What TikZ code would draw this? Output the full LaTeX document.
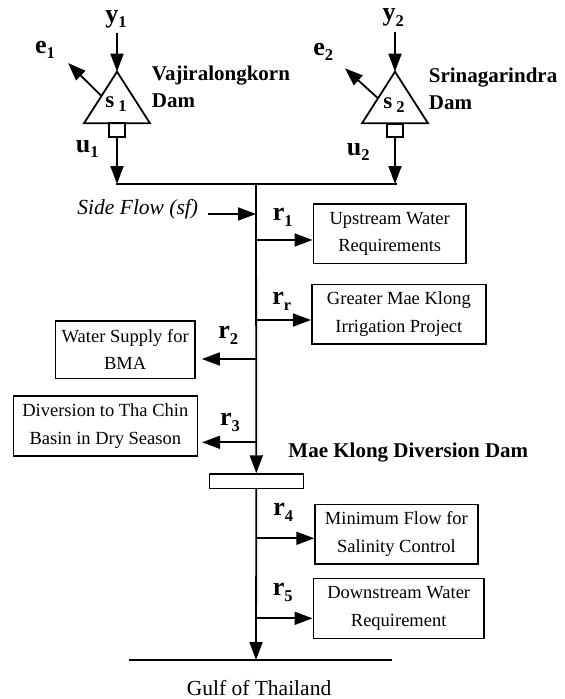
\documentclass[tikz,border=0pt]{standalone}
\usepackage{fontspec}
\setmainfont{Liberation Serif}
\usetikzlibrary{arrows.meta}
\newcommand\lbl[2]{{\fontsize{26}{28}\selectfont\bfseries #1\raisebox{-0.22em}{\fontsize{16.5}{18}\selectfont\bfseries #2}}}
\newcommand\stor[2]{{\fontsize{23}{25}\selectfont\bfseries #1\,\raisebox{-0.2em}{\fontsize{16.5}{18}\selectfont\bfseries #2}}}
\begin{document}
\begin{tikzpicture}[x=1pt,y=-1pt,
  line width=1.8pt,
  arr/.style={-{Triangle[length=18pt,width=13pt]}},
  lab/.style={inner sep=0},
  damname/.style={font=\fontsize{21}{27}\selectfont\bfseries, inner sep=0, align=left, anchor=west},
  box/.style={draw, line width=1.6pt, align=center, font=\fontsize{18.5}{27.5}\selectfont, inner sep=0},
  gate/.style={draw, line width=1.6pt, inner sep=0, minimum width=16pt, minimum height=13.5pt}]
\useasboundingbox (0,0) rectangle (565,699);

% ---- dam 1 ----
\coordinate (apex1) at (117,71.7);
\coordinate (bl1) at (84,123.3);
\coordinate (br1) at (150,123.3);
\draw[line join=miter] (apex1) -- (bl1) -- (br1) -- cycle;
\node[gate] (g1) at (117,130) {};
\node[lab] (s1) at (116,104) {\stor{s}{1}};
\coordinate (ytop1) at (117,33);
\draw[arr] (ytop1) -- (apex1);
\node[lab] (y1) at (116,19) {\lbl{y}{1}};
\coordinate (eo1) at (101.5,96);
\coordinate (et1) at (68,63);
\draw[arr] (eo1) -- (et1);
\node[lab] (e1) at (45,50) {\lbl{e}{1}};
\node[lab] (u1) at (87.3,149) {\lbl{u}{1}};
\node[damname] (d1) at (151,86.7) {Vajiralongkorn\\Dam};

% ---- dam 2 ----
\coordinate (apex2) at (395,71.7);
\coordinate (bl2) at (362,123.3);
\coordinate (br2) at (428,123.3);
\draw[line join=miter] (apex2) -- (bl2) -- (br2) -- cycle;
\node[gate] (g2) at (395,130.5) {};
\node[lab] (s2) at (394,105) {\stor{s}{2}};
\coordinate (ytop2) at (395,32);
\draw[arr] (ytop2) -- (apex2);
\node[lab] (y2) at (393.3,17.5) {\lbl{y}{2}};
\coordinate (eo2) at (378,98.3);
\coordinate (et2) at (345,68.3);
\draw[arr] (eo2) -- (et2);
\node[lab] (e2) at (323.3,52) {\lbl{e}{2}};
\node[lab] (u2) at (358.3,152) {\lbl{u}{2}};
\node[damname] (d2) at (428,89) {Srinagarindra\\Dam};

% ---- top collector ----
\coordinate (tl) at (116,184);
\coordinate (tr) at (396.5,184);
\coordinate (tm) at (256,184);
\draw (tl) -- (tr);
\draw[arr] (g1) -- (g1 |- tl);
\draw[arr] (g2) -- (g2 |- tr);

% ---- side flow ----
\node[font=\fontsize{21.5}{24}\selectfont\itshape, inner sep=0, anchor=east] (sf) at (199,209.5) {Side Flow (sf)};
\coordinate (sfs) at (208,214);
\coordinate (sfj) at (256,214);
\draw[arr] (sfs) -- (sfj);

% ---- demand boxes ----
\node[box, minimum width=152.7pt, minimum height=59.3pt] (up) at (389.7,233.7) {Upstream Water\\Requirements};
\node[box, minimum width=174.3pt, minimum height=59.7pt] (gm) at (398.9,314.2) {Greater Mae Klong\\Irrigation Project};
\node[box, minimum width=139.7pt, minimum height=57.6pt] (ws) at (125.2,349.5) {Water Supply for\\BMA};
\node[box, minimum width=184pt, minimum height=60pt] (dv) at (105.3,426) {Diversion to Tha Chin\\Basin in Dry Season};
\node[box, minimum width=162.7pt, minimum height=59.7pt] (mf) at (396.4,534.2) {Minimum Flow for\\Salinity Control};
\node[box, minimum width=170.7pt, minimum height=60pt] (ds) at (398.7,608.3) {Downstream Water\\Requirement};

% ---- diversion dam ----
\node[draw, line width=1.6pt, inner sep=0, minimum width=94pt, minimum height=14.3pt] (dam) at (256.3,481.2) {};
\node[font=\fontsize{21}{24}\selectfont\bfseries, inner sep=0] (damlbl) at (408.3,452.7) {Mae Klong Diversion Dam};

% ---- junctions ----
\coordinate (j1) at (256,240);
\coordinate (jr) at (256,320);
\coordinate (j2) at (256,359);
\coordinate (j3) at (256,442.3);
\coordinate (j4) at (256,538.3);
\coordinate (j5) at (256,618.3);

\draw[arr] (tm) -- (dam.north);
\draw[arr] (j1) -- (j1 -| up.west);
\draw[arr] (jr) -- (jr -| gm.west);
\draw[arr, shorten >=6pt] (j2) -- (j2 -| ws.east);
\draw[arr, shorten >=4pt] (j3) -- (j3 -| dv.east);
\draw[arr] (j4) -- (j4 -| mf.west);
\draw[arr] (j5) -- (j5 -| ds.west);

\node[lab] (r1) at (282.7,217.5) {\lbl{r}{1}};
\node[lab] (rr) at (281.7,301) {\lbl{r}{r}};
\node[lab] (r2) at (228.3,335) {\lbl{r}{2}};
\node[lab] (r3) at (230,422.5) {\lbl{r}{3}};
\node[lab] (r4) at (283.3,512.5) {\lbl{r}{4}};
\node[lab] (r5) at (282.7,592.5) {\lbl{r}{5}};

% ---- gulf ----
\coordinate (gl) at (129,660);
\coordinate (gr) at (392,660);
\coordinate (gmid) at (256,660);
\draw (gl) -- (gr);
\draw[arr] (dam.south) -- (gmid);
\node[font=\fontsize{21.5}{24}\selectfont, inner sep=0] (gulf) at (259,688) {Gulf of Thailand};
\end{tikzpicture}
\end{document}
